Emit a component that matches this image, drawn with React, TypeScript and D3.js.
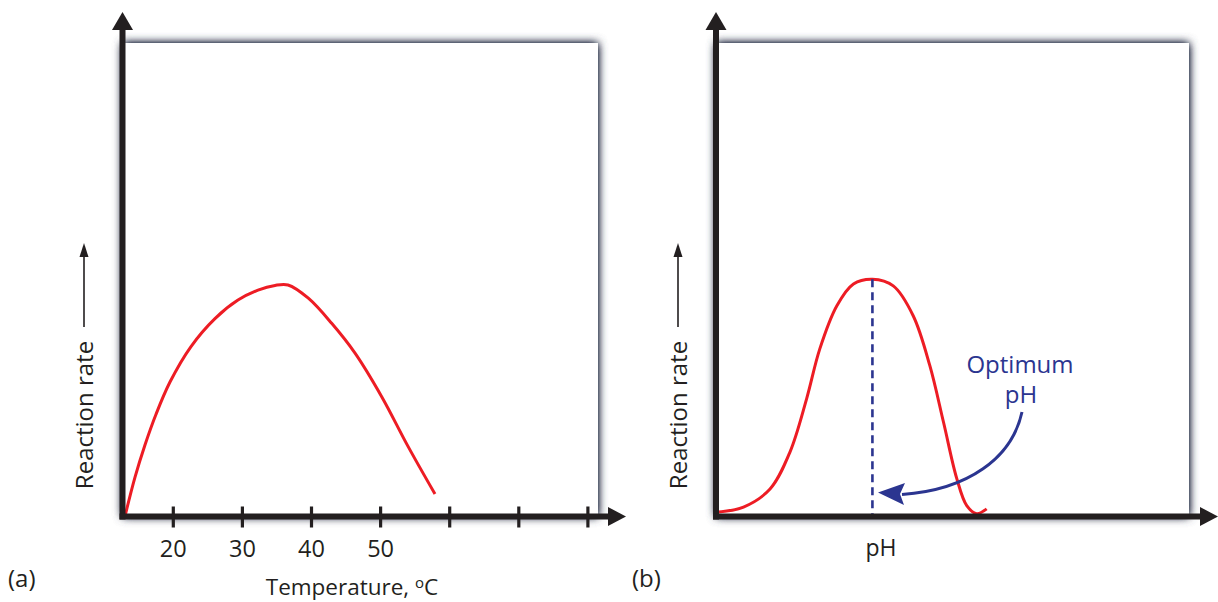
import React from "react";
import * as d3 from "d3";

// Panel (a): temperature vs reaction rate
const tempValues = [13.0, 14.46, 15.9, 17.5, 19.52, 22.56, 26.03, 29.36, 32.26, 34.72, 36.6, 39.54, 42.92, 46.3, 50.16, 54.01, 57.87];
const tempRates = [0, 8.3, 15.1, 21.6, 28.4, 35.9, 41.8, 45.7, 47.8, 48.8, 48.9, 46.1, 40.8, 34.5, 25.3, 14.7, 4.75];
const tempTicks = [20, 30, 40, 50, 60, 70, 80];
const tempTickLabels = ["20", "30", "40", "50", "", "", ""];

// Panel (b): pH vs reaction rate
const phValues = [0, 0.58, 1.14, 1.56, 1.91, 2.19, 2.55, 2.9, 3.3, 3.74, 4.16, 4.51, 4.8, 5.08, 5.29, 5.5, 5.71];
const phRates = [0.9, 2.0, 5.8, 13.6, 24.8, 35.4, 44.5, 49.1, 50.1, 48.7, 42.4, 31.9, 19.9, 8.0, 2.3, 0.6, 1.6];
const optimumPH = 3.3;

const FONT = "'Open Sans', 'Noto Sans', sans-serif";
const AXIS = "#231f20";
const RED = "#ed1c24";
const NAVY = "#2b3590";

const yBottom = 516.5;
const yTop = 43;

function Panel({ x0, x1, tipX, labelX, children }: { x0: number; x1: number; tipX: number; labelX: number; children?: React.ReactNode }) {
  return (
    <g>
      {/* shadowed box */}
      <rect x={x0} y={yTop} width={x1 - x0} height={yBottom - yTop} fill="#5e6576" filter="url(#glow)" />
      <rect x={x0} y={yTop} width={x1 - x0} height={yBottom - yTop} fill="#fff" />
      {children}
      {/* y axis */}
      <line x1={x0} x2={x0} y1={yBottom + 3} y2={28} stroke={AXIS} strokeWidth={6} />
      <path d={`M${x0},12 L${x0 + 10.5},30 L${x0 - 10.5},30 Z`} fill={AXIS} />
      {/* x axis */}
      <line x1={x0 - 3} x2={tipX - 14} y1={yBottom} y2={yBottom} stroke={AXIS} strokeWidth={6} />
      <path d={`M${tipX},${yBottom} L${tipX - 18},${yBottom - 9.5} L${tipX - 18},${yBottom + 9.5} Z`} fill={AXIS} />
      {/* y label */}
      <text
        transform={`translate(${labelX + 8.5},415) rotate(-90)`}
        textAnchor="middle"
        fontFamily={FONT}
        fontSize={24}
        fill={AXIS}
      >
        Reaction rate
      </text>
      <line x1={labelX} x2={labelX} y1={327} y2={254} stroke={AXIS} strokeWidth={1.6} />
      <path d={`M${labelX},243 L${labelX + 4.5},257 L${labelX - 4.5},257 Z`} fill={AXIS} />
    </g>
  );
}

export default function App() {
  const yScale = d3.scaleLinear().domain([0, 100]).range([yBottom, yTop]);
  const xA = d3.scaleLinear().domain([20, 80]).range([173.3, 587.9]);
  const xB = d3.scaleLinear().domain([0, 10]).range([716, 1190]);

  const lineA = d3
    .line<number>()
    .x((_, i) => xA(tempValues[i]))
    .y((_, i) => yScale(tempRates[i]))
    .curve(d3.curveCatmullRom.alpha(0.5));
  const lineB = d3
    .line<number>()
    .x((_, i) => xB(phValues[i]))
    .y((_, i) => yScale(phRates[i]))
    .curve(d3.curveCatmullRom.alpha(0.5));

  const optX = xB(optimumPH);
  const optY = yScale(d3.max(phRates) as number);

  return (
    <svg width={1218} height={602} style={{ position: "absolute", left: 0, top: 0, background: "#fff" }}>
      <defs>
        <filter id="glow" x="-10%" y="-10%" width="120%" height="120%">
          <feGaussianBlur stdDeviation="5" result="b" />
          <feComponentTransfer in="b">
            <feFuncA type="linear" slope="2.2" />
          </feComponentTransfer>
        </filter>
      </defs>

      <Panel x0={122.5} x1={598} tipX={626} labelX={84}>
        <path d={lineA(tempValues) || ""} fill="none" stroke={RED} strokeWidth={3} />
      </Panel>
      {tempTicks.map((t, i) => (
        <g key={t}>
          <line x1={xA(t)} x2={xA(t)} y1={yBottom - 10} y2={yBottom + 11} stroke={AXIS} strokeWidth={3.2} />
          {tempTickLabels[i] && (
            <text x={xA(t)} y={557} textAnchor="middle" fontFamily={FONT} fontSize={23.5} fill={AXIS}>
              {tempTickLabels[i]}
            </text>
          )}
        </g>
      ))}
      <text x={352} y={595} textAnchor="middle" fontFamily={FONT} fontSize={22.5} fill={AXIS}>
        Temperature,{" "}
        <tspan fontSize={15} dy={-7}>o</tspan>
        <tspan dy={7}>C</tspan>
      </text>
      <text x={8} y={587} fontFamily={FONT} fontSize={24} fill={AXIS}>(a)</text>

      <Panel x0={716} x1={1189} tipX={1218} labelX={678}>
        <path d={lineB(phValues) || ""} fill="none" stroke={RED} strokeWidth={3} />
        <line x1={optX} x2={optX} y1={optY} y2={yBottom} stroke={NAVY} strokeWidth={2.6} strokeDasharray="8,5" />
        <path d="M1022,412 C1012,458 968,490 902,494.5" fill="none" stroke={NAVY} strokeWidth={3} />
        <path d="M878,492.5 L905,483 L900,494 L904,505 Z" fill={NAVY} />
        <text x={1020} y={373} textAnchor="middle" fontFamily={FONT} fontSize={24} fill={NAVY}>Optimum</text>
        <text x={1021} y={403} textAnchor="middle" fontFamily={FONT} fontSize={24} fill={NAVY}>pH</text>
      </Panel>
      <text x={881} y={556} textAnchor="middle" fontFamily={FONT} fontSize={23} fill={AXIS}>pH</text>
      <text x={632} y={587} fontFamily={FONT} fontSize={24} fill={AXIS}>(b)</text>
    </svg>
  );
}
